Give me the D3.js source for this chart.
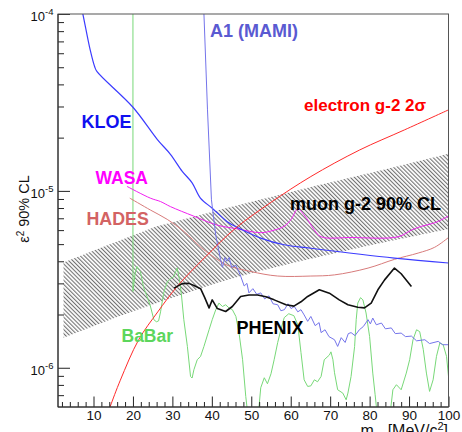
<!DOCTYPE html>
<html>
<head>
<meta charset="utf-8">
<script src="https://cdn.jsdelivr.net/npm/d3@7"></script>
<style>
body { margin: 0; background: #fff; }
text { font-family: "Liberation Sans", Arial, Helvetica, sans-serif; }
</style>
</head>
<body>
<script>
// tick values
var xMajor = [10, 20, 30, 40, 50, 60, 70, 80, 90, 100];
var yDecades = [1e-6, 1e-5, 1e-4];
var yDecadeLabels = ["-6", "-5", "-4"];

// curves: [mass (MeV), epsilon^2]
var kloe = [[6.5, 1.2e-4], [7.3, 1.0e-4], [9.16, 6.26e-5], [10.3, 5.03e-5], [10.9, 4.72e-5], [20.0, 2.97e-5],
    [26.2, 1.95e-5], [29.5, 1.61e-5], [32.5, 1.29e-5], [35.0, 1.11e-5], [37.1, 9.1e-6], [40.1, 7.98e-6],
    [43.9, 6.70e-6], [46.9, 6.15e-6], [52.4, 5.41e-6], [58.3, 4.96e-6], [65.1, 4.74e-6], [86.3, 4.17e-6],
    [100, 3.91e-6]];

var a1 = [[37.9, 1.5e-4], [38.0, 1.0e-4], [38.9, 2.87e-5], [39.9, 8.9e-6], [41.0, 5.6e-6], [42.2, 4.1e-6],
    [42.7, 3.7e-6], [43.3, 4.2e-6], [43.8, 4.0e-6], [44.4, 4.2e-6], [45.0, 3.7e-6], [46.1, 3.8e-6],
    [46.8, 3.5e-6], [47.3, 3.3e-6], [48.2, 2.9e-6], [48.9, 3.0e-6], [49.4, 2.65e-6], [50.4, 2.8e-6],
    [51.4, 2.6e-6], [52.4, 2.65e-6], [53.4, 2.45e-6], [54.5, 2.55e-6], [55.5, 2.3e-6], [56.7, 2.27e-6],
    [57.5, 2.1e-6], [58.4, 2.13e-6], [59.3, 2.3e-6], [60.1, 2.16e-6], [60.9, 2.22e-6], [61.8, 2.07e-6],
    [62.6, 2.13e-6], [63.4, 1.99e-6], [64.3, 1.83e-6], [65.1, 1.95e-6], [66.2, 1.73e-6], [67.2, 1.80e-6],
    [67.7, 1.58e-6], [68.7, 1.64e-6], [69.7, 1.50e-6], [71.1, 1.44e-6], [71.9, 1.32e-6], [72.8, 1.48e-6],
    [73.8, 1.39e-6], [74.6, 1.56e-6], [75.3, 1.58e-6], [76.3, 1.52e-6], [77.4, 1.64e-6], [78.4, 1.71e-6],
    [79.6, 1.87e-6], [80.2, 1.77e-6], [80.8, 1.91e-6], [81.7, 1.75e-6], [83.0, 1.79e-6], [84.0, 1.66e-6],
    [85.5, 1.68e-6], [86.5, 1.56e-6], [88.0, 1.57e-6], [89.1, 1.50e-6], [90.6, 1.51e-6], [91.9, 1.42e-6],
    [94.0, 1.44e-6], [95.2, 1.37e-6], [97.4, 1.41e-6], [98.5, 1.35e-6], [99.9, 1.35e-6]];

var wasa = [[18.5, 1.06e-5], [24.4, 9.1e-6], [27.0, 8.7e-6], [29.5, 8.15e-6], [35.4, 7.2e-6], [41.4, 6.4e-6],
    [46.5, 6.1e-6], [52.4, 5.8e-6], [55.8, 6.0e-6], [58.3, 6.3e-6], [60.1, 6.9e-6], [61.8, 7.9e-6],
    [63.4, 7.3e-6], [64.6, 6.7e-6], [66.0, 6.0e-6], [67.7, 5.5e-6], [75.3, 5.45e-6], [87.2, 5.5e-6],
    [90.6, 6.0e-6], [93.1, 6.3e-6], [96.5, 6.6e-6], [100, 7.2e-6]];

var hades = [[19.2, 9.1e-6], [24.4, 7.8e-6], [28.7, 6.9e-6], [32.9, 5.9e-6], [37.2, 4.8e-6], [39.7, 4.35e-6],
    [43.9, 3.8e-6], [49.9, 3.5e-6], [56.7, 3.3e-6], [65.1, 3.3e-6], [71.1, 3.35e-6], [79.6, 3.66e-6],
    [86.3, 4.1e-6], [92.3, 4.45e-6], [96.5, 4.8e-6], [100, 5.45e-6]];

var electron = [[13.6, 5.5e-7], [14.25, 6.05e-7], [16.8, 8.5e-7], [21.45, 1.44e-6], [26.3, 2.07e-6],
    [31.2, 2.88e-6], [38.4, 4.24e-6], [46.05, 6.16e-6], [55.2, 8.67e-6], [65.1, 1.205e-5],
    [77.4, 1.70e-5], [88.8, 2.21e-5], [100, 2.87e-5]];

var muonUpper = [[2.4, 3.93e-6], [11.7, 4.76e-6], [25.7, 6.26e-6], [44.8, 8.12e-6], [65.1, 1.053e-5],
    [83.0, 1.31e-5], [100, 1.62e-5]];
var muonLower = [[2.4, 1.48e-6], [16.8, 1.97e-6], [27.0, 2.36e-6], [41.4, 3.02e-6], [49.9, 3.42e-6],
    [62.6, 4.02e-6], [80.4, 4.95e-6], [100, 6.08e-6]];

var phenix = [[30.4, 2.82e-6], [32.5, 2.99e-6], [34.2, 3.0e-6], [35.6, 2.91e-6], [37.15, 2.80e-6],
    [38.2, 2.49e-6], [39.3, 2.18e-6], [40.1, 2.42e-6], [41.4, 2.16e-6], [43.5, 2.08e-6], [45.2, 2.22e-6],
    [47.3, 2.53e-6], [49.4, 2.58e-6], [51.6, 2.58e-6], [53.7, 2.52e-6], [55.8, 2.42e-6], [58.8, 2.27e-6],
    [60.8, 2.23e-6], [62.6, 2.36e-6], [64.3, 2.53e-6], [67.25, 2.76e-6], [69.8, 2.64e-6], [72.3, 2.42e-6],
    [74.5, 2.27e-6], [77.0, 2.20e-6], [78.7, 2.18e-6], [80.4, 2.32e-6], [82.1, 2.76e-6], [83.8, 3.14e-6],
    [86.3, 3.66e-6], [88.0, 3.40e-6], [90.6, 2.88e-6]];

var babar = [[20.0, 2e-4], [20.0, 2.70e-6], [20.5, 3.35e-6], [21.0, 3.74e-6], [21.9, 3.49e-6], [22.7, 2.84e-6],
    [23.6, 2.52e-6], [24.4, 2.24e-6], [25.3, 1.87e-6], [25.95, 1.82e-6], [26.5, 1.84e-6], [27.0, 2.07e-6],
    [27.8, 2.65e-6], [28.7, 3.06e-6], [29.5, 3.18e-6], [30.4, 3.28e-6], [31.2, 3.67e-6], [31.8, 3.14e-6],
    [32.3, 2.58e-6], [32.9, 1.87e-6], [33.8, 1.32e-6], [34.6, 8.93e-7], [35.0, 8.75e-7], [35.45, 9.74e-7],
    [36.3, 1.11e-6], [37.15, 1.16e-6], [38.0, 1.32e-6], [39.3, 1.64e-6], [40.1, 1.87e-6], [41.0, 2.13e-6],
    [41.8, 2.32e-6], [42.7, 2.22e-6], [43.5, 2.27e-6], [44.35, 2.18e-6], [45.2, 2.13e-6], [46.1, 1.95e-6],
    [46.9, 1.57e-6], [47.8, 1.11e-6], [48.6, 6.89e-7], [49.1, 5.5e-7], [51.8, 5.5e-7], [52.4, 7.71e-7],
    [53.3, 8.78e-7], [54.1, 8.12e-7], [55.0, 9.25e-7], [55.8, 1.11e-6], [56.7, 1.39e-6], [57.5, 1.64e-6],
    [58.35, 1.92e-6], [59.5, 2.02e-6], [60.8, 1.97e-6], [61.8, 1.75e-6], [62.6, 1.22e-6], [63.4, 8.55e-7],
    [64.3, 7.84e-7], [65.1, 7.9e-7], [66.0, 8.55e-7], [66.8, 8.33e-7], [67.7, 8.93e-7], [68.5, 1.11e-6],
    [69.8, 1.18e-6], [70.2, 1.23e-6], [70.7, 1.11e-6], [71.1, 9.37e-7], [71.9, 7.51e-7], [73.2, 7.19e-7],
    [74.05, 6.59e-7], [74.5, 7.19e-7], [75.3, 8.93e-7], [76.2, 1.32e-6], [76.6, 1.87e-6], [77.0, 2.32e-6],
    [77.7, 2.49e-6], [78.3, 2.42e-6], [79.1, 2.04e-6], [80.0, 1.50e-6], [80.8, 9.33e-7], [81.4, 7.04e-7],
    [81.9, 5.5e-7], [85.2, 5.5e-7], [85.9, 7.51e-7], [86.8, 8.02e-7], [88.0, 7.51e-7], [89.3, 9.33e-7],
    [90.15, 1.11e-6], [91.0, 1.44e-6], [91.9, 1.64e-6], [92.7, 1.60e-6], [93.6, 1.27e-6], [94.4, 9.33e-7],
    [95.2, 7.35e-7], [96.1, 8.55e-7], [96.95, 1.16e-6], [97.8, 1.38e-6], [98.65, 1.35e-6], [99.5, 1.16e-6],
    [100, 8.93e-7]];

var width = 462, height = 432;
var padLeft = 58, padRight = 448.5, padTop = 14, padBottom = 407;

var svg = d3.select("body").append("svg")
    .attr("width", width)
    .attr("height", height);

var xScale = d3.scaleLinear().domain([1, 100]).range([padLeft, padRight]);
var yScale = d3.scaleLog().domain([6e-7, 1e-4]).range([padBottom, padTop]);

var defs = svg.append("defs");
defs.append("clipPath").attr("id", "plotClip")
    .append("rect")
    .attr("x", padLeft).attr("y", padTop)
    .attr("width", padRight - padLeft).attr("height", padBottom - padTop);

// hatch like ROOT fill style 3004
var hatch = defs.append("pattern")
    .attr("id", "hatch")
    .attr("patternUnits", "userSpaceOnUse")
    .attr("width", 2.9).attr("height", 2.9)
    .attr("patternTransform", "rotate(-45)");
hatch.append("line")
    .attr("x1", 0.6).attr("y1", 0).attr("x2", 0.6).attr("y2", 2.9)
    .attr("stroke", "#4a4a4a").attr("stroke-width", 0.85);

var plot = svg.append("g").attr("clip-path", "url(#plotClip)");

var line = d3.line()
    .x(function (d) { return xScale(d[0]); })
    .y(function (d) { return yScale(d[1]); });
var smooth = d3.line()
    .x(function (d) { return xScale(d[0]); })
    .y(function (d) { return yScale(d[1]); })
    .curve(d3.curveCatmullRom);

// muon g-2 band
plot.append("path")
    .attr("d", line(muonUpper.concat(muonLower.slice().reverse())) + "Z")
    .attr("fill", "url(#hatch)")
    .attr("stroke", "none");

var curves = [
    { data: babar, color: "#78d878", w: 1, gen: line },
    { data: hades, color: "#d77b7b", w: 1, gen: smooth },
    { data: wasa, color: "#f020f0", w: 1, gen: smooth },
    { data: kloe, color: "#3c3cff", w: 1.2, gen: smooth },
    { data: a1, color: "#7474ea", w: 1, gen: line },
    { data: electron, color: "#ff2a2a", w: 1, gen: smooth },
    { data: phenix, color: "#111111", w: 1.6, gen: line }
];

plot.selectAll(".curve")
    .data(curves)
    .enter()
    .append("path")
    .attr("class", "curve")
    .attr("d", function (d) { return d.gen(d.data); })
    .attr("fill", "none")
    .attr("stroke", function (d) { return d.color; })
    .attr("stroke-width", function (d) { return d.w; })
    .attr("stroke-linejoin", "round");

// labels
var labels = [
    { text: "A1 (MAMI)", x: 210, y: 37, size: 18, color: "#5a5ad2" },
    { text: "KLOE", x: 81.5, y: 127.5, size: 18, color: "#1010f0" },
    { text: "electron g-2 2\u03c3", x: 304, y: 111, size: 17, color: "#ff0000" },
    { text: "WASA", x: 95.5, y: 183.5, size: 17.5, color: "#ff00ff" },
    { text: "HADES", x: 86.5, y: 225, size: 17.8, color: "#d36363" },
    { text: "muon g-2 90% CL", x: 290, y: 209.5, size: 18, color: "#000000" },
    { text: "BaBar", x: 121.5, y: 342, size: 17.5, color: "#5cd65c" },
    { text: "PHENIX", x: 236.5, y: 334, size: 18, color: "#000000" }
];

svg.selectAll(".lbl")
    .data(labels)
    .enter()
    .append("text")
    .attr("class", "lbl")
    .attr("x", function (d) { return d.x; })
    .attr("y", function (d) { return d.y; })
    .attr("font-size", function (d) { return d.size; })
    .attr("font-weight", "bold")
    .attr("fill", function (d) { return d.color; })
    .text(function (d) { return d.text; });

// axes
var xMinor = d3.range(2, 100, 2).filter(function (d) { return d % 10 !== 0; });
var yMinor = [];
[1e-7, 1e-6, 1e-5].forEach(function (dec) {
    for (var k = 2; k <= 9; k++) {
        var v = k * dec;
        if (v > 6.05e-7 && v < 1e-4) yMinor.push(v);
    }
});

var xAxis = svg.append("g")
    .attr("transform", "translate(0," + padBottom + ")")
    .call(d3.axisBottom(xScale).tickValues(xMajor).tickSize(-10.5).tickPadding(3.5)
        .tickFormat(d3.format("d")));
xAxis.selectAll("text").attr("font-size", 13.5).attr("fill", "#111")
    .style("font-family", "'Liberation Sans', Arial, sans-serif");
svg.append("g")
    .attr("transform", "translate(0," + padBottom + ")")
    .call(d3.axisBottom(xScale).tickValues(xMinor).tickSize(-5).tickFormat(""));

svg.append("g")
    .attr("transform", "translate(" + padLeft + ",0)")
    .call(d3.axisLeft(yScale).tickValues(yDecades).tickSize(-12).tickFormat(""));
svg.append("g")
    .attr("transform", "translate(" + padLeft + ",0)")
    .call(d3.axisLeft(yScale).tickValues(yMinor).tickSize(-6).tickFormat(""));

svg.selectAll(".domain").remove();
svg.selectAll(".tick line").attr("stroke", "#222");

var yLab = svg.selectAll(".ylab")
    .data(yDecades)
    .enter()
    .append("text")
    .attr("class", "ylab")
    .attr("x", 53.5)
    .attr("y", function (d) { return yScale(d) + 7; })
    .attr("text-anchor", "end")
    .attr("font-size", 13)
    .attr("fill", "#111");
yLab.append("tspan").text("10");
yLab.append("tspan")
    .attr("dy", -6)
    .attr("font-size", 9.5)
    .text(function (d, i) { return yDecadeLabels[i]; });

// frame
svg.append("rect")
    .attr("x", padLeft).attr("y", padTop)
    .attr("width", padRight - padLeft).attr("height", padBottom - padTop)
    .attr("fill", "none")
    .attr("stroke", "#555")
    .attr("stroke-width", 1);
svg.append("line")
    .attr("x1", padLeft).attr("x2", padLeft).attr("y1", padTop).attr("y2", padBottom)
    .attr("stroke", "#222");
svg.append("line")
    .attr("x1", padLeft).attr("x2", padRight).attr("y1", padBottom).attr("y2", padBottom)
    .attr("stroke", "#222");

// axis titles
var yTitle = svg.append("text")
    .attr("transform", "translate(29,209) rotate(-90)")
    .attr("text-anchor", "middle")
    .attr("font-size", 14.5)
    .attr("fill", "#111");
yTitle.append("tspan").text("\u03b5");
yTitle.append("tspan").attr("dy", -5).attr("font-size", 10).text("2");
yTitle.append("tspan").attr("dy", 5).text(" 90% CL");

var xTitle = svg.append("text")
    .attr("x", 448)
    .attr("y", 436)
    .attr("text-anchor", "end")
    .attr("font-size", 16)
    .attr("fill", "#111");
xTitle.append("tspan").text("m");
xTitle.append("tspan").attr("dy", 4).attr("font-size", 11).text("A'");
xTitle.append("tspan").attr("dy", -4).text(" [MeV/c");
xTitle.append("tspan").attr("dy", -6).attr("font-size", 11).text("2");
xTitle.append("tspan").attr("dy", 6).text("]");
</script>
</body>
</html>
